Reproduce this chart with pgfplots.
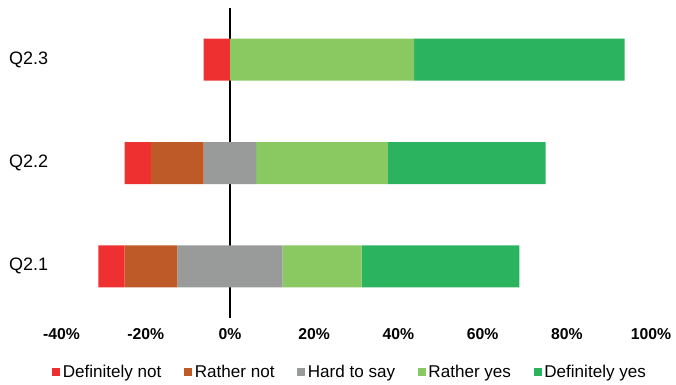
\documentclass[border=0pt]{standalone}
\usepackage{pgfplots}
\pgfplotsset{compat=1.18}
\usepackage{fontspec}
\setmainfont{Liberation Sans}
\definecolor{cDN}{HTML}{EE3030}
\definecolor{cRN}{HTML}{BE5A28}
\definecolor{cHS}{HTML}{999B9B}
\definecolor{cRY}{HTML}{8AC862}
\definecolor{cDY}{HTML}{2BB35F}
\begin{document}
\begin{tikzpicture}
\begin{axis}[
  name=ax,
  scale only axis,
  width=442pt, height=232.5pt,
  xbar stacked,
  stack negative=on previous,
  bar width=31.5pt,
  xmin=-40, xmax=100,
  ymin=-0.5, ymax=2.5,
  ytick={0,1,2},
  yticklabels={Q2.1,Q2.2,Q2.3},
  xtick={-40,-20,0,20,40,60,80,100},
  xticklabel={\pgfmathprintnumber{\tick}\%},
  /pgf/number format/assume math mode=true,
  xticklabel style={font=\bfseries\fontsize{11.8}{13}\selectfont, yshift=-4pt},
  yticklabel style={font=\fontsize{13.5}{15}\selectfont, xshift=-6.5pt},
  axis line style={draw=none},
  major tick length=0pt,
  legend style={draw=none, at={(0.49,-0.175)}, anchor=center,
    legend columns=5, font=\fontsize{12.8}{14}\selectfont,
    /tikz/every even column/.append style={column sep=15pt}},
  legend image code/.code={\fill[#1] (0pt,-3pt) rectangle (6pt,3pt);},
  clip=false,
]
\addplot[draw=none, fill=none] coordinates {(-31.25,0) (-25,1) (-6.25,2)};
\addplot[draw=none, fill=cDN] coordinates {(6.25,0) (6.25,1) (6.25,2)};
\addplot[draw=none, fill=cRN] coordinates {(12.5,0) (12.5,1) (0,2)};
\addplot[draw=none, fill=cHS] coordinates {(25,0) (12.5,1) (0,2)};
\addplot[draw=none, fill=cRY] coordinates {(18.75,0) (31.25,1) (43.75,2)};
\addplot[draw=none, fill=cDY] coordinates {(37.5,0) (37.5,1) (50,2)};
\legend{,Definitely not, Rather not, Hard to say, Rather yes, Definitely yes}
\draw[black, line width=1.1pt] (axis cs:0,-0.5) -- (axis cs:0,2.5);
\end{axis}
\pgfresetboundingbox
\path ([shift={(-46.1pt,-49.5pt)}]ax.south west) rectangle ([shift={(18.75pt,6pt)}]ax.north east);
\end{tikzpicture}
\end{document}
